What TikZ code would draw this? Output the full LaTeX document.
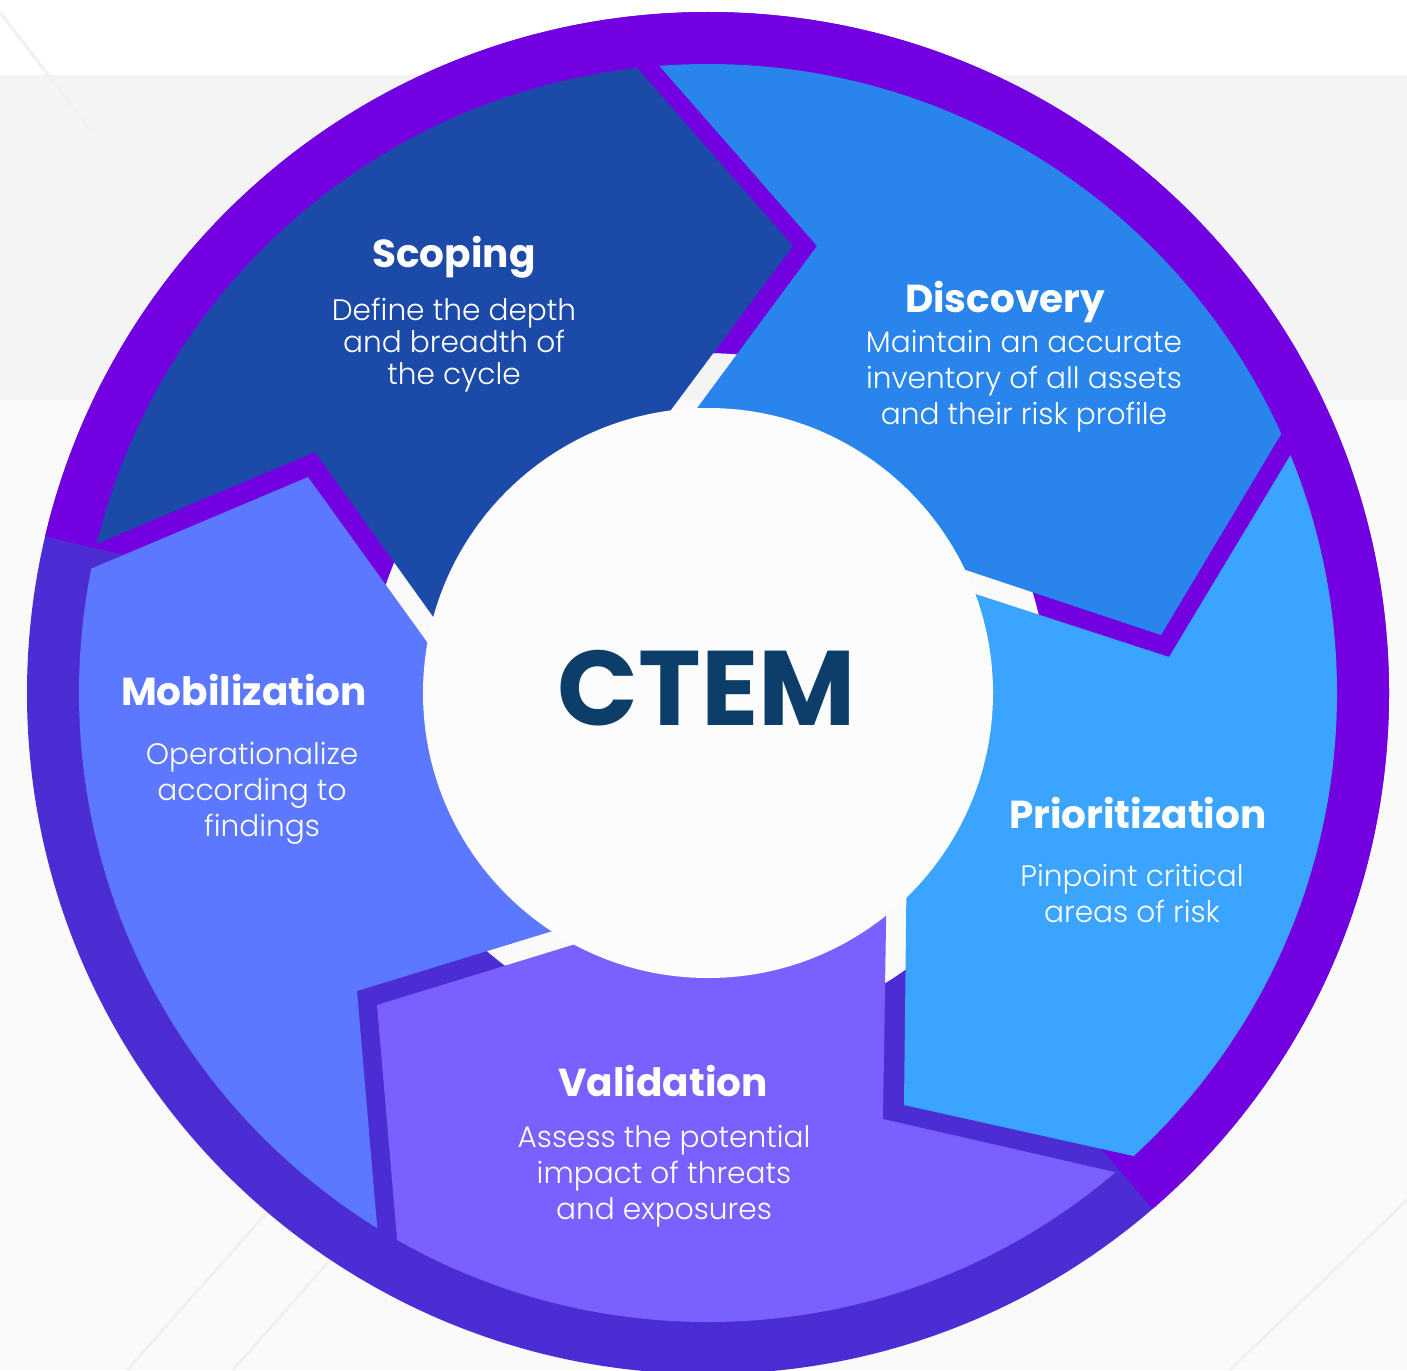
\documentclass[tikz,border=0pt]{standalone}
\usepackage{fontspec}
\setmainfont{Poppins}
\newfontfamily\lightfont{Poppins Light}
\usetikzlibrary{positioning}
\definecolor{ringviolet}{RGB}{115,0,225}
\definecolor{ringindigo}{RGB}{75,45,211}
\definecolor{scopeblue}{RGB}{28,74,168}
\definecolor{discblue}{RGB}{41,133,235}
\definecolor{prioblue}{RGB}{58,164,255}
\definecolor{validviolet}{RGB}{122,97,255}
\definecolor{mobblue}{RGB}{91,120,255}
\definecolor{ctemnavy}{RGB}{12,62,105}
\definecolor{bgband}{RGB}{244,244,244}
\definecolor{bgpale}{RGB}{250,250,250}
\definecolor{bgstreak}{RGB}{241,241,241}
\definecolor{hubwhite}{RGB}{252,252,252}
\tikzset{
  stagetitle/.style={font=\fontsize{19.5}{22}\selectfont\bfseries, text=white, inner sep=0pt, anchor=base},
  stagetext/.style={font=\lightfont\fontsize{14.8}{18}\selectfont, text=white, align=center,
                    inner sep=0pt, anchor=north},
  hubtext/.style={font=\fontsize{53}{60}\selectfont\bfseries, text=ctemnavy, inner sep=0pt, anchor=base},
  streak/.style={draw=bgstreak, line width=1.5pt},
}

\begin{document}
\begin{tikzpicture}[x=0.5pt, y=-0.5pt]
        \useasboundingbox (0,0) rectangle (1407,1370);
        % background bands
        \fill[bgpale] (0,0) rectangle (1407,1370);
        \fill[white] (0,0) rectangle (1407,75);
        \fill[bgband] (0,75) rectangle (1407,400);
        \draw[streak] (127,1370) -- (420,1040);
        \draw[streak] (233,1370) -- (480,1090);
        \draw[streak] (0,12) -- (90,130);
        \draw[streak] (1230,1370) -- (1407,1200);
        \coordinate (hub) at (708,693);
        % outer ring, split in two shades
        \fill[ringindigo, even odd rule] (hub) circle (340.5pt) (hub) circle (170pt);
        \begin{scope}
          \clip (hub) -- (1361,1450) -- (1800,1450) -- (1800,-400) -- (-300,-400) -- (-265,463) -- cycle;
          \fill[ringviolet, even odd rule] (hub) circle (340.5pt) (hub) circle (170pt);
        \end{scope}
        % the five stages
        \begin{scope}
          \clip (hub) circle (314.5pt);
          \fill[scopeblue] (-32,598) -- (315,452) -- (457,650) -- (hub) -- (650,438) -- (793,246) -- (576,-2) -- (65,-73) -- cycle;
          \fill[discblue] (599,-3) -- (817,246) -- (672,442) -- (hub) -- (906,550) -- (1161,635) -- (1329,354) -- (1223,-164) -- cycle;
          \fill[prioblue] (1338,376) -- (1169,657) -- (917,575) -- (hub) -- (907,838) -- (904,1105) -- (1246,1181) -- (1684,911) -- cycle;
          \fill[validviolet] (1228,1198) -- (883,1119) -- (887,858) -- (hub) -- (631,927) -- (377,1005) -- (407,1355) -- (795,1689) -- cycle;
          \fill[mobblue] (387,1342) -- (357,991) -- (608,914) -- (hub) -- (463,692) -- (308,477) -- (-16,614) -- (-210,1089) -- cycle;
        \end{scope}
        \fill[hubwhite] (hub) circle (142.5pt);
        \node[hubtext] (ctem) at (707,725) {CTEM};
        % stage labels
        \node[stagetitle] (scoping) at (454,267) {Scoping};
        \node[stagetext, font=\lightfont\fontsize{14.8}{16}\selectfont] (scopingtxt) at (454,298) {Define the depth\\and breadth of\\the cycle};
        \node[stagetitle] (discovery) at (1005,312) {Discovery};
        \node[stagetext] (discoverytxt) at (1024,330) {Maintain an accurate\\inventory of all assets\\and their risk profile};
        \node[stagetitle] (prior) at (1138,828) {Prioritization};
        \node[stagetext] (priortxt) at (1132,864) {Pinpoint critical\\areas of risk};
        \node[stagetitle] (valid) at (663,1096) {Validation};
        \node[stagetext] (validtxt) at (664,1125) {Assess the potential\\impact of threats\\and exposures};
        \node[stagetitle] (mobil) at (244,705) {Mobilization};
        \node[stagetext] (mobiltxt) at (252,742) {Operationalize\\according to\hspace*{8pt}\\\hspace*{10pt}findings};
      \end{tikzpicture}
\end{document}
